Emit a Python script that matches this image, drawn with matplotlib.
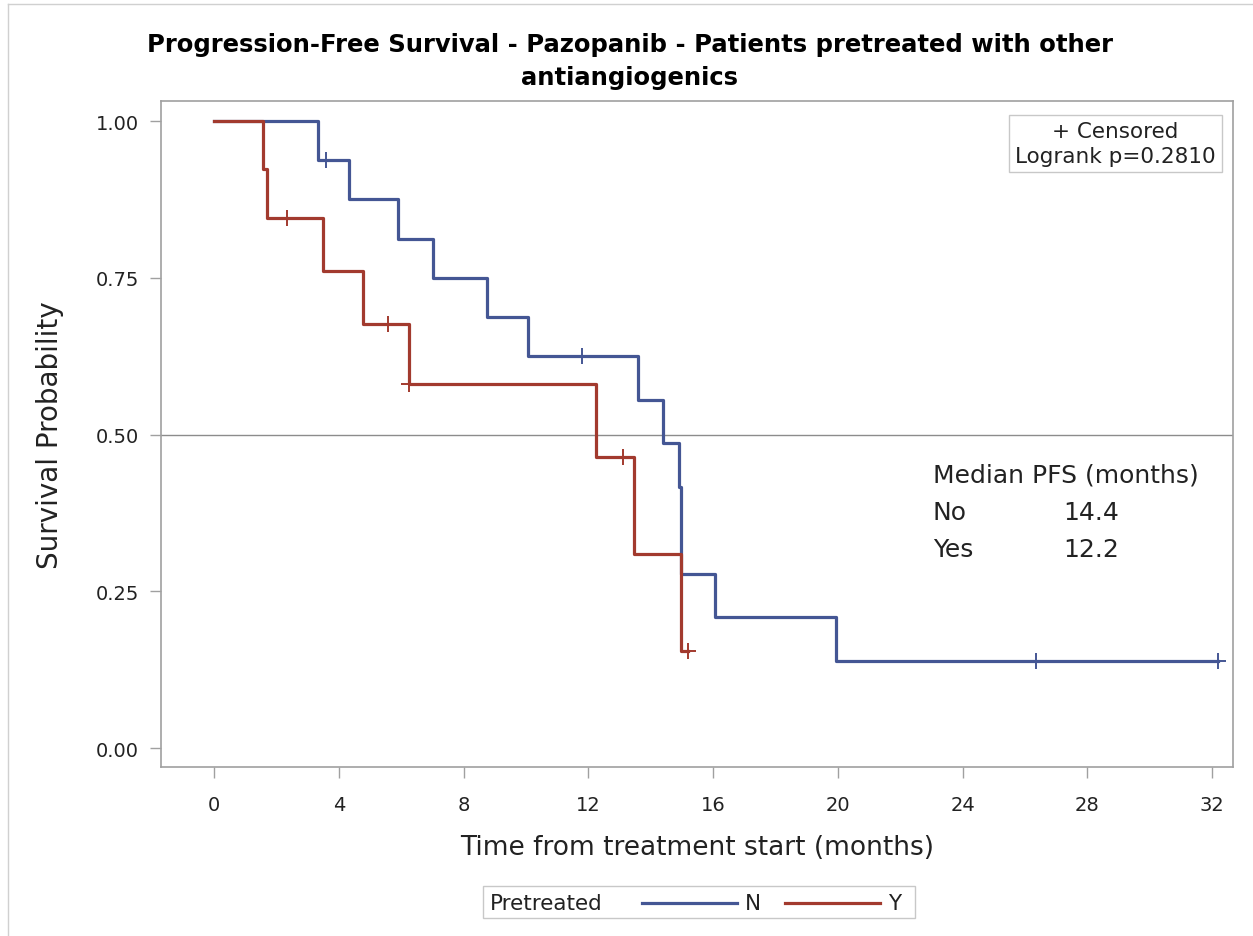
import numpy as np
import matplotlib.pyplot as plt
from matplotlib.lines import Line2D
from matplotlib.patches import Rectangle

# Kaplan-Meier step data
# group N (not pretreated)
timeN = [0, 3.33, 4.33, 5.90, 7.02, 8.75, 10.07, 13.60, 14.40, 14.90, 14.97, 16.06, 19.95, 32.2]
survN = [1.0, 0.9375, 0.875, 0.8125, 0.75, 0.6875, 0.625, 0.5556, 0.4861, 0.4167, 0.2778, 0.2083, 0.1389, 0.1389]
censTimeN = [3.59, 11.8, 26.35, 32.2]
censSurvN = [0.9375, 0.625, 0.1389, 0.1389]

# group Y (pretreated)
timeY = [0, 1.57, 1.70, 3.50, 4.78, 6.25, 12.25, 13.45, 14.97, 15.2]
survY = [1.0, 0.923, 0.846, 0.7615, 0.677, 0.580, 0.464, 0.309, 0.155, 0.155]
censTimeY = [2.33, 5.58, 6.25, 13.1, 15.2]
censSurvY = [0.846, 0.677, 0.580, 0.464, 0.155]

xTicks = [0, 4, 8, 12, 16, 20, 24, 28, 32]
yTicks = [0.0, 0.25, 0.5, 0.75, 1.0]
medianRows = [('No', '14.4'), ('Yes', '12.2')]

blue = '#445694'
red = '#A23A2E'
gray = '#A0A0A0'
txt = '#222222'

plt.rcParams['font.family'] = ['DejaVu Sans']

W, H = 1253, 937
fig = plt.figure(figsize=(W / 100, H / 100), dpi=100)
ax = fig.add_axes([161 / W, 1 - 768 / H, (1233 - 161) / W, (768 - 102) / H])

# reference line at the median
ax.axhline(0.5, color='#8C8C8C', linewidth=1.0, zorder=1)

ax.step(timeN, survN, where='post', color=blue, linewidth=2.3, zorder=3)
ax.step(timeY, survY, where='post', color=red, linewidth=2.3, zorder=3)
ax.plot(censTimeN, censSurvN, linestyle='none', marker='+', markersize=12,
        markeredgewidth=1.4, color=blue, zorder=4)
ax.plot(censTimeY, censSurvY, linestyle='none', marker='+', markersize=12,
        markeredgewidth=1.4, color=red, zorder=4)

ax.set_xlim(-1.70, 32.67)
ax.set_ylim(-0.0303, 1.032)
ax.set_xticks(xTicks)
ax.set_yticks(yTicks)
ax.set_yticklabels(['%.2f' % v for v in yTicks])
ax.tick_params(axis='both', labelsize=14, color=gray, length=8, width=1.0,
               labelcolor=txt)
ax.tick_params(axis='x', pad=12)
ax.tick_params(axis='y', pad=8)
for s in ax.spines.values():
    s.set_color(gray)
    s.set_linewidth(1.2)

ax.set_xlabel('Time from treatment start (months)', fontsize=19, color=txt, va='center')
ax.xaxis.set_label_coords(0.5, (768 - 848) / 666)
ax.set_ylabel('Survival Probability', fontsize=20, color=txt, va='center')
ax.yaxis.set_label_coords((50 - 161) / 1072, 0.5)

# title
fig.text(630 / W, 1 - 45 / H, 'Progression-Free Survival - Pazopanib - Patients pretreated with other',
         ha='center', va='center', fontsize=17.5, fontweight='bold')
fig.text(630 / W, 1 - 78 / H, 'antiangiogenics',
         ha='center', va='center', fontsize=17.5, fontweight='bold')

# inset box with censor / logrank info
ax.text((1216 - 161) / 1072, (768 - 122) / 666, '+ Censored\nLogrank p=0.2810',
        transform=ax.transAxes, ha='right', va='top', fontsize=15.5, linespacing=1.3,
        multialignment='center', color=txt,
        bbox=dict(boxstyle='square,pad=0.3', facecolor='white', edgecolor='#C8C8C8', linewidth=1))

# median PFS table
fs = 18
fig.text(933 / W, 1 - 476 / H, 'Median PFS (months)', ha='left', va='center',
         fontsize=fs, color=txt)
for i, (grp, med) in enumerate(medianRows):
    yy = 1 - (513 + 37 * i) / H
    fig.text(933 / W, yy, grp, ha='left', va='center', fontsize=fs, color=txt)
    fig.text(1063 / W, yy, med, ha='left', va='center', fontsize=fs, color=txt)

# bottom legend drawn by hand
fig.add_artist(Rectangle((483 / W, 1 - 919 / H), (915 - 483) / W, (919 - 887) / H,
                         transform=fig.transFigure, facecolor='white',
                         edgecolor='#C8C8C8', linewidth=1))
ly = 1 - 904 / H
fig.text(490 / W, ly, 'Pretreated', ha='left', va='center', fontsize=15.5, color=txt)
fig.add_artist(Line2D([642 / W, 737 / W], [ly, ly], transform=fig.transFigure,
                      color=blue, linewidth=2.3))
fig.text(745 / W, ly, 'N', ha='left', va='center', fontsize=15.5, color=txt)
fig.add_artist(Line2D([785 / W, 880 / W], [ly, ly], transform=fig.transFigure,
                      color=red, linewidth=2.3))
fig.text(888 / W, ly, 'Y', ha='left', va='center', fontsize=15.5, color=txt)

# faint outer frame
fig.add_artist(Line2D([8 / W, 8 / W], [0, 1 - 5 / H], transform=fig.transFigure,
                      color='#D0D0D0', linewidth=1))
fig.add_artist(Line2D([8 / W, 1], [1 - 5 / H, 1 - 5 / H], transform=fig.transFigure,
                      color='#D0D0D0', linewidth=1))

plt.savefig('out.png', dpi=100)
